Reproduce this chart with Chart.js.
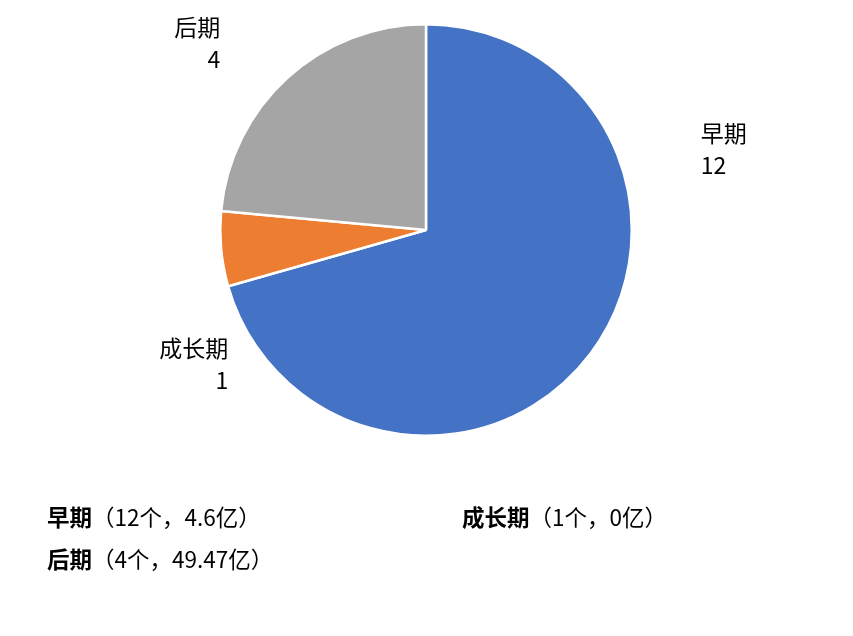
<!DOCTYPE html>
<html>
<head>
<meta charset="utf-8">
<script src="https://cdn.jsdelivr.net/npm/chart.js@4"></script>
<style>
html,body{margin:0;padding:0;background:#fff;}
#wrap{width:853px;height:636px;position:relative;}
</style>
</head>
<body>
<div id="wrap"><canvas id="c" width="853" height="636"></canvas></div>
<script>
const categories = ['早期', '成长期', '后期'];
const counts = [12, 1, 4];
const amounts = ['4.6', '0', '49.47'];
const colors = ['#4472C4', '#ED7D31', '#A5A5A5'];

// label anchors in units of pie radius relative to pie centre (style/layout only)
const labelAnchors = [
  {dx: 1.335, dy: -0.471, align: 'left'},
  {dx: -0.961, dy: 0.573, align: 'right'},
  {dx: -1.0, dy: -0.985, align: 'right'}
];
// legend layout order: rows/columns
const legendSlots = [
  {x: 47, y: 517},
  {x: 462, y: 517},
  {x: 47, y: 559}
];
const FONT = '"Noto Sans CJK SC", "Microsoft YaHei", sans-serif';

const labelPlugin = {
  id: 'pieLabels',
  afterDatasetsDraw(chart) {
    const ctx = chart.ctx;
    const meta = chart.getDatasetMeta(0);
    ctx.save();
    ctx.fillStyle = '#000';
    ctx.font = '23px ' + FONT;
    ctx.textBaseline = 'middle';
    meta.data.forEach((arc, i) => {
      const r = arc.outerRadius;
      const a = labelAnchors[i];
      const x = arc.x + a.dx * r;
      const y = arc.y + a.dy * r;
      ctx.textAlign = a.align;
      ctx.fillText(categories[i], x, y);
      ctx.fillText(String(chart.data.datasets[0].data[i]), x, y + 32);
    });
    // legend text
    categories.forEach((c, i) => {
      const s = legendSlots[i];
      ctx.textAlign = 'left';
      ctx.font = 'bold 22.5px ' + FONT;
      ctx.fillText(c, s.x, s.y);
      const w = ctx.measureText(c).width;
      ctx.font = '22.5px ' + FONT;
      ctx.fillText('（' + counts[i] + '个，' + amounts[i] + '亿）', s.x + w, s.y);
    });
    ctx.restore();
  }
};

new Chart(document.getElementById('c'), {
  type: 'pie',
  data: {
    labels: categories,
    datasets: [{
      data: counts,
      backgroundColor: colors,
      borderColor: '#ffffff',
      borderWidth: 2.5
    }]
  },
  options: {
    responsive: false,
    animation: false,
    layout: {padding: {left: 219, right: 220, top: 23, bottom: 199}},
    plugins: {
      legend: {display: false},
      tooltip: {enabled: false}
    }
  },
  plugins: [labelPlugin]
});
</script>
</body>
</html>
